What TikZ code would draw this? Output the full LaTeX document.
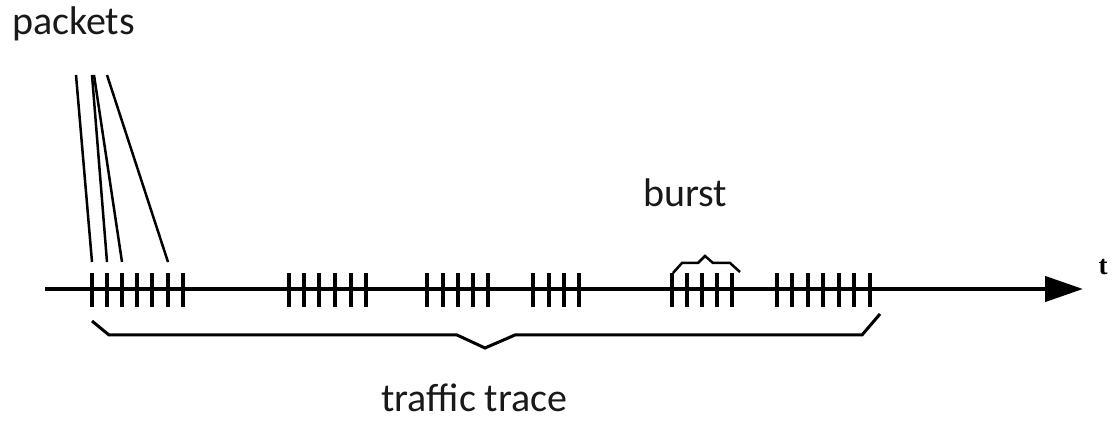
\documentclass[tikz,border=0pt]{standalone}
\usepackage{fontspec}
\setmainfont{Carlito}
\newfontfamily\serifbold{Liberation Serif}
\usetikzlibrary{arrows.meta}
\tikzset{
  label text/.style={inner sep=0pt, font=\fontsize{40}{48}\selectfont, text=black!90},
  axis line/.style={line width=4.5pt, -{Triangle[length=38pt,width=25pt]}},
  tick/.style={line width=3.3pt},
  packet line/.style={line width=2.5pt},
  brace line/.style={line width=3pt, line join=miter},
}
\begin{document}
\begin{tikzpicture}[x=1pt, y=-1pt]
\useasboundingbox (0,0) rectangle (1120,430);

% time axis
\coordinate (axisstart) at (45,289);
\coordinate (axisend) at (1083,289);
\draw[axis line] (axisstart) -- (axisend);
\node[inner sep=0pt, anchor=base, font=\serifbold\bfseries\fontsize{27}{30}\selectfont] (tlabel) at (1103,275) {t};

% packet ticks
\foreach \x in {92,107,122,137,152,168,183,
                289,304,319,335,351,366,
                427,443,458,473,488,
                533,549,564,579,
                672,687,702,717,732,
                777,792,808,823,839,854,870}
  \draw[tick] (\x,273) -- (\x,307);

% labels
\node[label text, anchor=base west] (packets) at (12,35) {packets};
\node[label text, anchor=base west] (burst) at (643,207) {burst};
\node[label text, anchor=base west] (trace) at (381,412) {traffic trace};

% lines from the label down to individual packets
\coordinate (p1) at (76,75);
\coordinate (p2) at (92,75);
\coordinate (p3) at (94,75);
\coordinate (p4) at (107,75);
\draw[packet line] (p1) -- (92,262);
\draw[packet line] (p2) -- (107,262);
\draw[packet line] (p3) -- (122,262);
\draw[packet line] (p4) -- (168,262);

% brace over the burst
\draw[line width=2.5pt, line join=miter]
  (673,273) -- (682,263) -- (698,263) -- (705,256) -- (713,263) -- (730,263) -- (740,272);

% brace under the whole trace
\draw[brace line]
  (92,321) -- (109,335) -- (457,335) -- (485,348) -- (515,335) -- (862,335) -- (880,314);
\end{tikzpicture}
\end{document}
